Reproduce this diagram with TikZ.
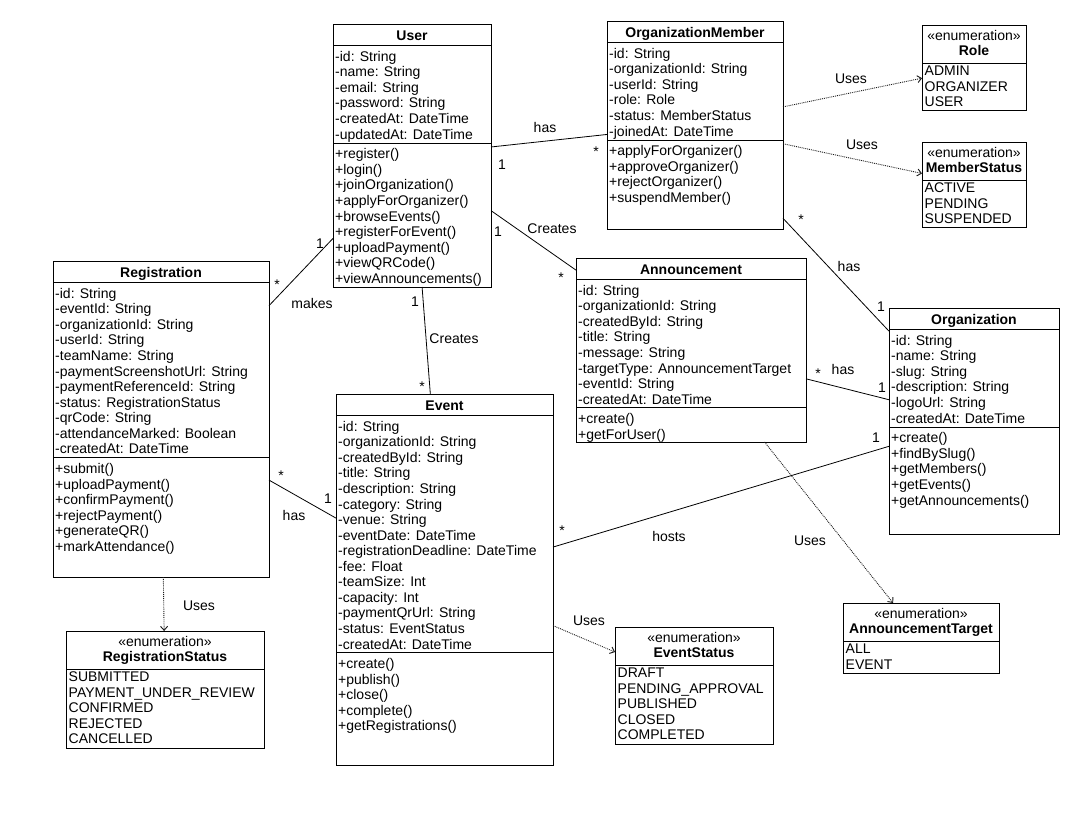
\documentclass[tikz,border=0pt]{standalone}
\usepackage{fontspec}
\setmainfont{Liberation Sans}
\usetikzlibrary{arrows.meta}
\begin{document}
\begin{tikzpicture}[x=1pt, y=-1pt, font=\fontsize{14}{15.6}\selectfont,
    box/.style={draw, line width=0.9pt, inner sep=0pt, outer sep=0pt, anchor=north west},
    sepline/.style={line width=0.9pt},
    ctitle/.style={anchor=base, inner sep=0pt, font=\fontsize{14}{15.6}\selectfont\bfseries},
    stereo/.style={anchor=base, inner sep=0pt},
    attr/.style={anchor=base west, inner sep=0pt},
    lbl/.style={anchor=base, inner sep=0pt},
    assoc/.style={line width=0.8pt},
    uses/.style={line width=0.9pt, black!90, densely dotted, -{Straight Barb[length=4pt,width=7pt]}}]
    \fill[white] (0,0) rectangle (1087,822);
    \useasboundingbox (0,0) rectangle (1087,822);

    % User
    \node[box, minimum width=158, minimum height=263] (user) at (333,24) {};
    \node[ctitle] (user-t) at (412,40.5) {User};
    \draw[sepline] (333,45.5) -- (491,45.5) (333,143) -- (491,143);
    \foreach \s [count=\i from 0] in {-id: String, -name: String, -email: String, -password: String, -createdAt: DateTime, -updatedAt: DateTime}
        \node[attr] (user-a\i) at (335,61.3+15.55*\i) {\s};
    \foreach \s [count=\i from 0] in {+register(), +login(), +joinOrganization(), +applyForOrganizer(), +browseEvents(), +registerForEvent(), +uploadPayment(), +viewQRCode(), +viewAnnouncements()}
        \node[attr] (user-m\i) at (335,158.8+15.55*\i) {\s};

    % OrganizationMember
    \node[box, minimum width=176, minimum height=208] (orgm) at (607,21) {};
    \node[ctitle] (orgm-t) at (695,37.5) {OrganizationMember};
    \draw[sepline] (607,42.5) -- (783,42.5) (607,140) -- (783,140);
    \foreach \s [count=\i from 0] in {-id: String, -organizationId: String, -userId: String, -role: Role, -status: MemberStatus, -joinedAt: DateTime}
        \node[attr] (orgm-a\i) at (609,58.3+15.55*\i) {\s};
    \foreach \s [count=\i from 0] in {+applyForOrganizer(), +approveOrganizer(), +rejectOrganizer(), +suspendMember()}
        \node[attr] (orgm-m\i) at (609,155.8+15.55*\i) {\s};

    % Registration
    \node[box, minimum width=216, minimum height=316] (reg) at (53,261) {};
    \node[ctitle] (reg-t) at (161,277.5) {Registration};
    \draw[sepline] (53,282.5) -- (269,282.5) (53,457.8) -- (269,457.8);
    \foreach \s [count=\i from 0] in {-id: String, -eventId: String, -organizationId: String, -userId: String, -teamName: String, -paymentScreenshotUrl: String, -paymentReferenceId: String, -status: RegistrationStatus, -qrCode: String, -attendanceMarked: Boolean, -createdAt: DateTime}
        \node[attr] (reg-a\i) at (55,298.3+15.55*\i) {\s};
    \foreach \s [count=\i from 0] in {+submit(), +uploadPayment(), +confirmPayment(), +rejectPayment(), +generateQR(), +markAttendance()}
        \node[attr] (reg-m\i) at (55,473.6+15.55*\i) {\s};

    % Announcement
    \node[box, minimum width=230, minimum height=184] (ann) at (576,258) {};
    \node[ctitle] (ann-t) at (691,274.5) {Announcement};
    \draw[sepline] (576,279.5) -- (806,279.5) (576,407.7) -- (806,407.7);
    \foreach \s [count=\i from 0] in {-id: String, -organizationId: String, -createdById: String, -title: String, -message: String, -targetType: AnnouncementTarget, -eventId: String, -createdAt: DateTime}
        \node[attr] (ann-a\i) at (578,295.3+15.55*\i) {\s};
    \foreach \s [count=\i from 0] in {+create(), +getForUser()}
        \node[attr] (ann-m\i) at (578,423.5+15.55*\i) {\s};

    % Organization
    \node[box, minimum width=170, minimum height=226] (org) at (889,308) {};
    \node[ctitle] (org-t) at (974,324.5) {Organization};
    \draw[sepline] (889,329.5) -- (1059,329.5) (889,427) -- (1059,427);
    \foreach \s [count=\i from 0] in {-id: String, -name: String, -slug: String, -description: String, -logoUrl: String, -createdAt: DateTime}
        \node[attr] (org-a\i) at (891,345.3+15.55*\i) {\s};
    \foreach \s [count=\i from 0] in {+create(), +findBySlug(), +getMembers(), +getEvents(), +getAnnouncements()}
        \node[attr] (org-m\i) at (891,442.8+15.55*\i) {\s};

    % Event
    \node[box, minimum width=217, minimum height=371] (event) at (336,394) {};
    \node[ctitle] (event-t) at (444.5,410.5) {Event};
    \draw[sepline] (336,415.5) -- (553,415.5) (336,652.8) -- (553,652.8);
    \foreach \s [count=\i from 0] in {-id: String, -organizationId: String, -createdById: String, -title: String, -description: String, -category: String, -venue: String, -eventDate: DateTime, -registrationDeadline: DateTime, -fee: Float, -teamSize: Int, -capacity: Int, -paymentQrUrl: String, -status: EventStatus, -createdAt: DateTime}
        \node[attr] (event-a\i) at (338,431.3+15.55*\i) {\s};
    \foreach \s [count=\i from 0] in {+create(), +publish(), +close(), +complete(), +getRegistrations()}
        \node[attr] (event-m\i) at (338,668.6+15.55*\i) {\s};

    % enumerations
    \node[box, minimum width=104, minimum height=85] (role) at (922,25) {};
    \node[stereo] (role-s) at (974,40) {«enumeration»};
    \node[ctitle] (role-t) at (974,55.5) {Role};
    \draw[sepline] (922,63) -- (1026,63);
    \foreach \s [count=\i from 0] in {ADMIN, ORGANIZER, USER}
        \node[attr] (role-v\i) at (924.5,75.5+15.55*\i) {\s};

    \node[box, minimum width=104, minimum height=85] (mstat) at (922,142) {};
    \node[stereo] (mstat-s) at (974,157) {«enumeration»};
    \node[ctitle] (mstat-t) at (974,172.5) {MemberStatus};
    \draw[sepline] (922,180) -- (1026,180);
    \foreach \s [count=\i from 0] in {ACTIVE, PENDING, SUSPENDED}
        \node[attr] (mstat-v\i) at (924.5,192.5+15.55*\i) {\s};

    \node[box, minimum width=198, minimum height=117] (rstat) at (66,631) {};
    \node[stereo] (rstat-s) at (165,646) {«enumeration»};
    \node[ctitle] (rstat-t) at (165,661.5) {RegistrationStatus};
    \draw[sepline] (66,669) -- (264,669);
    \foreach \s [count=\i from 0] in {SUBMITTED, PAYMENT\_UNDER\_REVIEW, CONFIRMED, REJECTED, CANCELLED}
        \node[attr] (rstat-v\i) at (68.5,681.5+15.55*\i) {\s};

    \node[box, minimum width=158, minimum height=117] (estat) at (615,627) {};
    \node[stereo] (estat-s) at (694,642) {«enumeration»};
    \node[ctitle] (estat-t) at (694,657.5) {EventStatus};
    \draw[sepline] (615,665) -- (773,665);
    \foreach \s [count=\i from 0] in {DRAFT, PENDING\_APPROVAL, PUBLISHED, CLOSED, COMPLETED}
        \node[attr] (estat-v\i) at (617.5,677.5+15.55*\i) {\s};

    \node[box, minimum width=156, minimum height=70] (atarget) at (843,603) {};
    \node[stereo] (atarget-s) at (921,618) {«enumeration»};
    \node[ctitle] (atarget-t) at (921,633.5) {AnnouncementTarget};
    \draw[sepline] (843,641) -- (999,641);
    \foreach \s [count=\i from 0] in {ALL, EVENT}
        \node[attr] (atarget-v\i) at (845.5,653.5+15.55*\i) {\s};

    % associations
    \draw[assoc] (user) -- (orgm);
    \draw[assoc] (user) -- (ann);
    \draw[assoc] (user) -- (reg);
    \draw[assoc] (user) -- (event);
    \draw[assoc] (reg) -- (event);
    \draw[assoc] (event) -- (org);
    \draw[assoc] (ann) -- (org);
    \draw[assoc] (orgm) -- (org);

    \node[lbl] (l-has1) at (545,132) {has};
    \node[lbl] (l-has1a) at (502,169) {1};
    \node[lbl] (l-has1b) at (596,156) {*};
    \node[lbl] (l-cr1) at (552,233) {Creates};
    \node[lbl] (l-cr1a) at (498,236) {1};
    \node[lbl] (l-cr1b) at (561,282) {*};
    \node[lbl] (l-makes) at (312,308) {makes};
    \node[lbl] (l-makesa) at (320,248) {1};
    \node[lbl] (l-makesb) at (277,289) {*};
    \node[lbl] (l-cr2) at (454,343) {Creates};
    \node[lbl] (l-cr2a) at (415,306) {1};
    \node[lbl] (l-cr2b) at (422,391) {*};
    \node[lbl] (l-has2) at (294,520) {has};
    \node[lbl] (l-has2a) at (281,480) {*};
    \node[lbl] (l-has2b) at (328,503) {1};
    \node[lbl] (l-hosts) at (669,541) {hosts};
    \node[lbl] (l-hostsa) at (562,535) {*};
    \node[lbl] (l-hostsb) at (876,442) {1};
    \node[lbl] (l-has3) at (843,374) {has};
    \node[lbl] (l-has3a) at (818,378) {*};
    \node[lbl] (l-has3b) at (882,392) {1};
    \node[lbl] (l-has4) at (849,271) {has};
    \node[lbl] (l-has4a) at (801,224) {*};
    \node[lbl] (l-has4b) at (881,311) {1};

    % dependencies
    \draw[uses] (orgm) -- (role);
    \draw[uses] (orgm) -- (mstat);
    \draw[uses] (reg) -- (rstat);
    \draw[uses] (event) -- (estat);
    \draw[uses] (ann) -- (atarget);

    \node[lbl] (u-role) at (851,83) {Uses};
    \node[lbl] (u-mstat) at (862,149) {Uses};
    \node[lbl] (u-rstat) at (199,610) {Uses};
    \node[lbl] (u-estat) at (589,625) {Uses};
    \node[lbl] (u-atarget) at (810,545) {Uses};
\end{tikzpicture}
\end{document}
